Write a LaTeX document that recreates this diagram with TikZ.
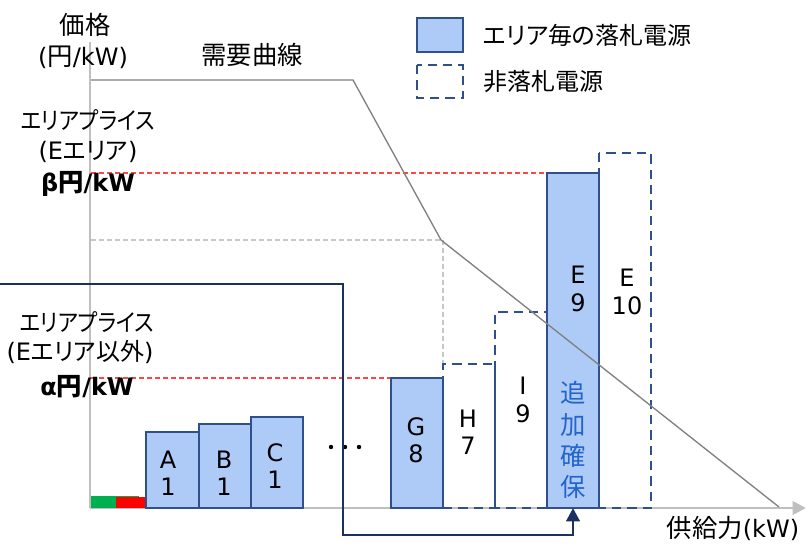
\documentclass[tikz,border=0pt]{standalone}
\usepackage{fontspec}
\usepackage{graphicx}
\setmainfont{DejaVu Sans}
\newfontfamily\jp{Noto Sans CJK JP}[RawFeature=+palt]
\usetikzlibrary{arrows.meta}
\definecolor{barfill}{RGB}{173,203,246}
\definecolor{barline}{RGB}{47,80,140}
\definecolor{navy}{RGB}{28,48,100}
\definecolor{axisgray}{RGB}{191,191,191}
\definecolor{curvegray}{RGB}{128,128,128}
\definecolor{dashgray}{RGB}{200,200,200}
\definecolor{reddash}{RGB}{255,70,70}
\definecolor{textblue}{RGB}{35,100,205}
\definecolor{mkgreen}{RGB}{0,176,80}
\begin{document}
\begin{tikzpicture}[x=0.75pt,y=-0.75pt,
  solidbar/.style={fill=barfill,draw=barline,line width=1.8pt},
  dashbar/.style={draw=barline,line width=1.8pt,dash pattern=on 7pt off 4.5pt},
  lbl/.style={font=\fontsize{18}{20}\selectfont,inner sep=0pt,align=center},
  barlbl/.style={font=\fontsize{18}{20.5}\selectfont,inner sep=0pt,align=center},
  refline/.style={draw=reddash,line width=0.9pt,dash pattern=on 3.5pt off 2.5pt},
  greyref/.style={draw=dashgray,line width=0.9pt,dash pattern=on 3.5pt off 2.5pt}]
\path[use as bounding box] (0,0) rectangle (812,547);
% axes
\draw[axisgray,line width=2pt] (90,42) -- (90,508);
\draw[axisgray,line width=2pt,-{Triangle[length=10pt,width=10pt]}] (90,508) -- (806,508);
% green/red
\fill[mkgreen] (91,496) rectangle (139,508);
\fill[red] (116,497) rectangle (147,508);
% reference lines
\draw[refline] (91,173) -- (547,173);
\draw[refline] (91,378) -- (391,378);
\draw[greyref] (91,240) -- (441,240);
\draw[greyref] (443,240) -- (443,366);
% bars
\draw[solidbar] (146,432) rectangle (199,508);
\draw[solidbar] (199,424) rectangle (251,508);
\draw[solidbar] (251,417) rectangle (303,508);
\draw[solidbar] (391,378) rectangle (443,508);
\draw[solidbar] (547,173) rectangle (599,508);
\draw[dashbar] (443,508) -- (443,364) -- (495,364) -- (495,508);
\draw[dashbar] (495,508) -- (495,312) -- (547,312) -- (547,508) -- cycle;
\draw[dashbar] (599,153) rectangle (651,508);
\draw[dashbar] (443,508) -- (495,508);
% dots
\foreach \xx in {331,345,359} \fill (\xx,447) circle (2.2);
% demand curve
\draw[curvegray,line width=1pt] (91,80) -- (353,80) -- (441,240) -- (779,507);
% navy arrow
\coordinate (navystart) at (-2,284);
\coordinate (navytip) at (573,508);
\draw[navy,line width=2.2pt,-{Triangle[length=10pt,width=10pt]}] (navystart) -- (343,284) -- (343,535) -- (573,535) -- (navytip);
% legend
\draw[solidbar] (417,18) rectangle (463,52);
\draw[dashbar] (417,65) rectangle (463,98);
\node[lbl,anchor=west,font=\fontsize{18}{20}\selectfont\jp] (leg1) at (483,35) {エリア毎の落札電源};
\node[lbl,anchor=west,font=\fontsize{18}{20}\selectfont\jp] (leg2) at (483,82) {非落札電源};
% axis labels
\node[lbl,font=\fontsize{19}{20}\selectfont\jp] (kakaku) at (85,25) {価格};
\node[lbl] (unit) at (83,57) {({\jp\fontsize{19}{20}\selectfont 円}/kW)};
\node[lbl,font=\fontsize{19}{20}\selectfont\jp] (demand) at (252,55) {需要曲線};
\node[lbl,font=\fontsize{18}{20}\selectfont\jp] (ap1) at (88,120) {\scalebox{0.9}[1]{エリアプライス}};
\node[lbl] (ap1b) at (88,152) {(E{\jp\fontsize{18}{20}\selectfont エリア})};
\node[lbl] (beta) at (88,184) {\bfseries β{\jp\fontsize{19}{20}\selectfont 円}/kW};
\node[lbl,font=\fontsize{18}{20}\selectfont\jp] (ap2) at (87,322) {\scalebox{0.9}[1]{エリアプライス}};
\node[lbl] (ap2b) at (80,352) {(E{\jp\fontsize{18}{20}\selectfont エリア以外})};
\node[lbl] (alpha) at (87,387) {\bfseries α{\jp\fontsize{19}{20}\selectfont 円}/kW};
\node[lbl] (supply) at (733,528) {{\jp\fontsize{19}{20}\selectfont 供給力}(kW)};
% bar labels
\node[barlbl] (la) at (168,473) {A\\1};
\node[barlbl] (lb) at (224,473) {B\\1};
\node[barlbl] (lc) at (275,466) {C\\1};
\node[barlbl] (lg) at (416,440) {G\\8};
\node[barlbl] (lh) at (468,432) {H\\7};
\node[barlbl] (li) at (523,400) {I\\9};
\node[barlbl] (le9) at (578,289) {E\\9};
\node[barlbl] (le10) at (627,292) {E\\10};
\node[font=\fontsize{19}{23.5}\selectfont\jp,inner sep=0pt,align=center,text=textblue] (add) at (573,440) {追\\加\\確\\保};
\end{tikzpicture}
\end{document}
